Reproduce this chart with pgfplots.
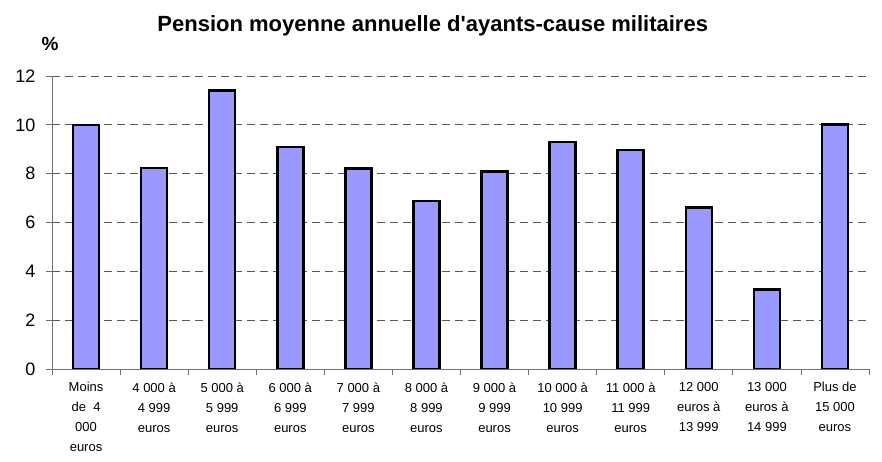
\documentclass[border=0pt]{standalone}
\usepackage{fontspec}
\setmainfont{Liberation Sans}
\usepackage{pgfplots}
\pgfplotsset{compat=1.18}
\definecolor{barfill}{HTML}{9999FF}
\definecolor{axisgray}{HTML}{707070}

\begin{document}
\begin{tikzpicture}
\begin{axis}[
    at={(52pt,93pt)}, anchor=south west,
    scale only axis,
    width=817pt, height=293pt,
    xmin=0.5, xmax=12.5,
    ymin=0, ymax=12,
    axis lines=left,
    axis line style={-, axisgray, line width=0.8pt},
    ytick={0,2,...,12},
    xtick={0.5,1.5,...,12.5},
    xticklabels={
        {Moins\\de~ 4\\000\\euros},
        {4 000 à\\4 999\\euros},
        {5 000 à\\5 999\\euros},
        {6 000 à\\6 999\\euros},
        {7 000 à\\7 999\\euros},
        {8 000 à\\8 999\\euros},
        {9 000 à\\9 999\\euros},
        {10 000 à\\10 999\\euros},
        {11 000 à\\11 999\\euros},
        {12 000\\euros à\\13 999},
        {13 000\\euros à\\14 999},
        {Plus de\\15 000\\euros},
        {}},
    xticklabel style={font=\fontsize{13}{20}\selectfont, align=center,
        anchor=north, xshift=34.04pt, yshift=-4pt},
    yticklabel style={font=\fontsize{18}{18}\selectfont, xshift=-7pt},
    /pgf/number format/assume math mode=true,
    tick align=outside,
    major tick length=6pt,
    tick style={axisgray, line width=0.8pt},
    ymajorgrids,
    grid style={black!65, dash pattern=on 8pt off 5pt, line width=0.7pt},
    title={Pension moyenne annuelle d\textquotesingle ayants-cause militaires},
    title style={font=\fontsize{22}{22}\selectfont\bfseries,
        at={(0.466,1)}, anchor=base, yshift=38pt},
    ylabel={\%},
    ylabel style={font=\fontsize{19}{19}\selectfont\bfseries,
        at={(rel axis cs:0,1)}, rotate=-90, anchor=base, xshift=-2pt, yshift=25pt},
    ybar, bar width=26pt,
]
\addplot[fill=barfill, draw=black, line width=2.5pt] coordinates {
    (1,10.0) (2,8.24) (3,11.41) (4,9.09) (5,8.22) (6,6.88)
    (7,8.08) (8,9.30) (9,8.97) (10,6.62) (11,3.26) (12,10.01)
};
\end{axis}
\pgfresetboundingbox
\path (0,0) rectangle (882pt,462pt);
\end{tikzpicture}
\end{document}
